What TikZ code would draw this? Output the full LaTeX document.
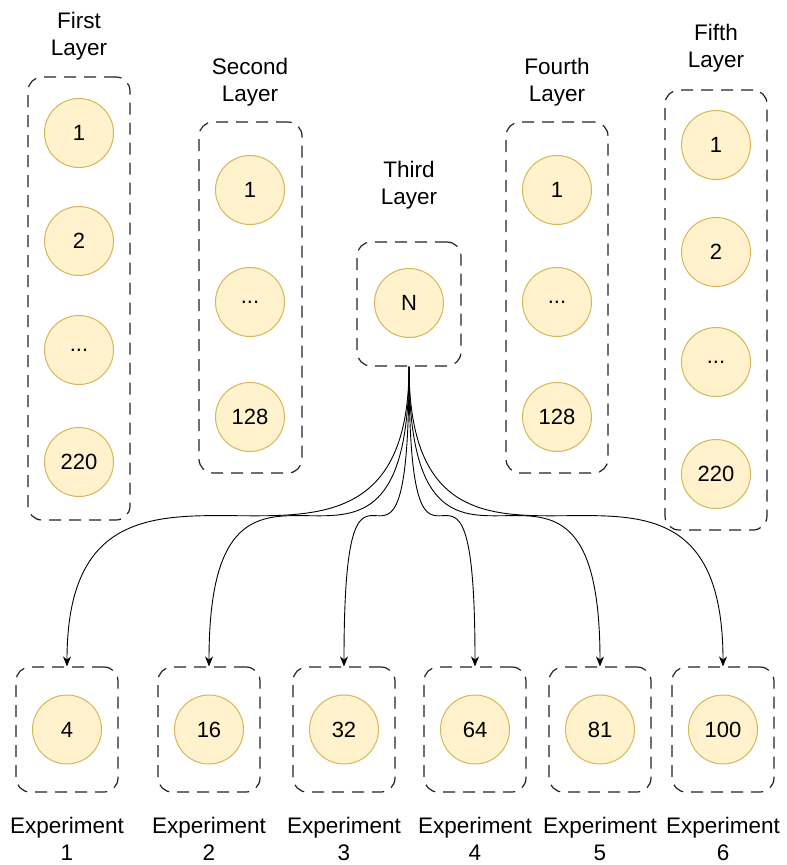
\documentclass[tikz,border=0pt]{standalone}
\usepackage{fontspec}
\setmainfont{Liberation Sans}
\usetikzlibrary{arrows.meta}
\definecolor{cfill}{HTML}{FFF2CC}
\definecolor{cdraw}{HTML}{D6B656}
\definecolor{boxc}{HTML}{222222}
\begin{document}
\begin{tikzpicture}[x=1pt,y=-1pt,
  layerbox/.style={draw=boxc,line width=1.2pt,dash pattern=on 12pt off 8pt,rounded corners=14pt,minimum width=#1,inner sep=0pt},
  neuron/.style={circle,draw=cdraw,fill=cfill,line width=1pt,minimum size=69pt,inner sep=0pt,font=\fontsize{22}{24}\selectfont},
  lbl/.style={align=center,inner sep=0pt,font=\fontsize{22.5}{27}\selectfont},
  conn/.style={line width=0.9pt,-{Stealth[length=10pt,width=8pt]}}]
\useasboundingbox (0,0) rectangle (787,865);
% layer boxes
\node[layerbox=102pt,minimum height=443pt] (b1) at (79,298.5) {};
\node[layerbox=103pt,minimum height=351pt] (b2) at (250.5,297.5) {};
\node[layerbox=104pt,minimum height=124pt] (b3) at (409,304) {};
\node[layerbox=102pt,minimum height=351pt] (b4) at (557,297.5) {};
\node[layerbox=102pt,minimum height=440pt] (b5) at (716,310) {};
% labels
\node[lbl] (l1) at (79,36) {First\\Layer};
\node[lbl] (l2) at (250,82) {Second\\Layer};
\node[lbl] (l3) at (409,185) {Third\\Layer};
\node[lbl] (l4) at (557,82) {Fourth\\Layer};
\node[lbl] (l5) at (716,48) {Fifth\\Layer};
% neurons
\node[neuron] (n11) at (79,133) {1};
\node[neuron] (n12) at (79,241) {2};
\node[neuron] (n13) at (79,350) {...};
\node[neuron] (n14) at (79,462) {220};
\node[neuron] (n21) at (250,190) {1};
\node[neuron] (n22) at (250,302) {...};
\node[neuron] (n23) at (250,417) {128};
\node[neuron] (n31) at (409,303) {N};
\node[neuron] (n41) at (557,190) {1};
\node[neuron] (n42) at (557,302) {...};
\node[neuron] (n43) at (557,417) {128};
\node[neuron] (n51) at (716,145) {1};
\node[neuron] (n52) at (716,252) {2};
\node[neuron] (n53) at (716,362) {...};
\node[neuron] (n54) at (716,474) {220};
% experiments
\foreach \i/\x/\v in {1/67/4,2/209/16,3/344/32,4/475/64,5/600/81,6/723/100}{
  \node[layerbox=102pt,minimum height=125pt] (e\i) at (\x,729.5) {};
  \node[neuron] (en\i) at (\x,729.5) {\v};
  \node[lbl] (el\i) at (\x,838.5) {Experiment\\\i};
}
% connectors
\foreach \i in {1,...,6}{
  \draw[conn] (b3.south) .. controls (b3.south |- e\i.north) and (e\i.north |- b3.south) .. (e\i.north);
}
\end{tikzpicture}
\end{document}
